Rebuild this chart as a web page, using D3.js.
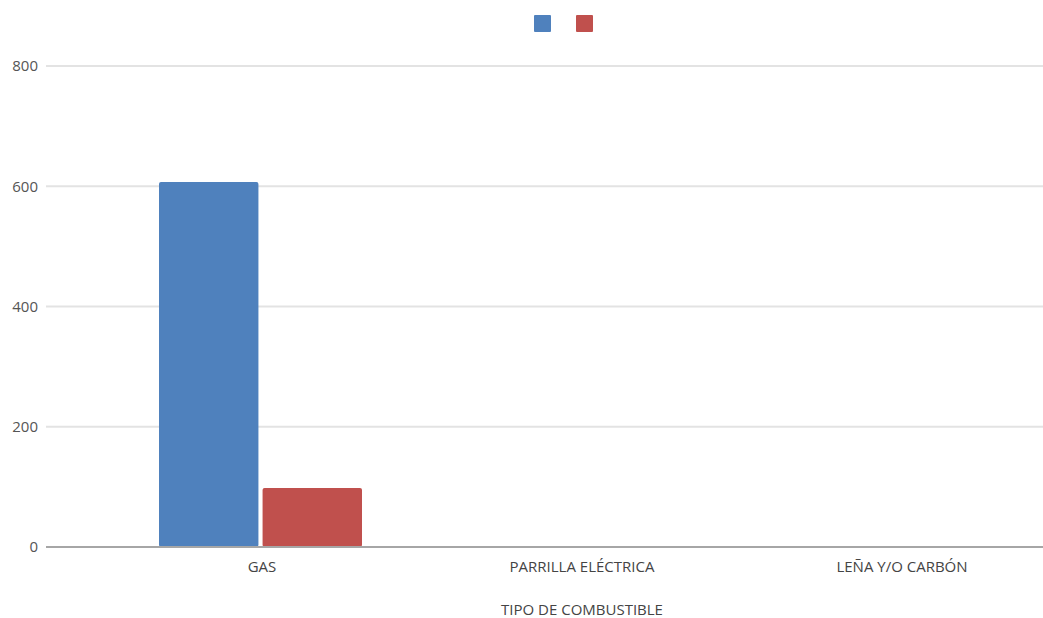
<!DOCTYPE html>
<html><head><meta charset="utf-8">
<script src="https://cdn.jsdelivr.net/npm/d3@7"></script>
<style>body{margin:0;background:#fff}svg{display:block;font-family:"Open Sans",sans-serif}</style>
</head><body><svg id="c" width="1043" height="618"></svg>
<script>
const categories = ["GAS", "PARRILLA ELÉCTRICA", "LEÑA Y/O CARBÓN"];
const seriesNames = ["", ""];
const series1 = [607, 0, 0];
const series2 = [98, 0, 0];
const yTicks = [0, 200, 400, 600, 800];
const xTitle = "TIPO DE COMBUSTIBLE";
const colors = ["#4F81BD", "#C0504D"];

(function () {
const svg = d3.select("#c");
const pLeft = 46, pRight = 1043, pTop = 66, pBottom = 547;
const y = d3.scaleLinear().domain([0, 800]).range([pBottom, pTop]);
const x = d3.scaleBand().domain(categories).range([102, 1062]);
const inner = d3.scaleBand().domain([0, 1]).range([57, 260]).paddingInner(0.04);
const fs = 15;

svg.append("g").selectAll("line").data(yTicks.filter(d => d > 0)).join("line")
  .attr("x1", pLeft).attr("x2", pRight).attr("y1", d => y(d)).attr("y2", d => y(d))
  .attr("stroke", "#e3e3e3").attr("stroke-width", 2);

svg.append("g").selectAll("text").data(yTicks).join("text")
  .attr("x", 38).attr("y", d => y(d)).attr("dy", "0.35em").attr("text-anchor", "end")
  .attr("fill", "#555").attr("font-size", fs).text(d => d);

const data = categories.map((c, i) => ({c, v: [series1[i], series2[i]]}));
const g = svg.append("g");
data.forEach(d => {
  d.v.forEach((v, j) => {
    if (v <= 0) return;
    g.append("rect")
      .attr("x", x(d.c) + inner(j)).attr("width", inner.bandwidth())
      .attr("y", y(v)).attr("height", y(0) - y(v))
      .attr("rx", 2).attr("fill", colors[j]);
  });
});

svg.append("line").attr("x1", pLeft).attr("x2", pRight).attr("y1", y(0)).attr("y2", y(0))
  .attr("stroke", "#a6a6a6").attr("stroke-width", 2);

svg.append("g").selectAll("text").data(categories).join("text")
  .attr("x", d => x(d) + x.bandwidth() / 2).attr("y", 572).attr("text-anchor", "middle")
  .attr("fill", "#444").attr("font-size", fs).text(d => d);

svg.append("text").attr("x", 582).attr("y", 615).attr("text-anchor", "middle")
  .attr("fill", "#444").attr("font-size", fs).text(xTitle);

const lg = svg.append("g");
seriesNames.forEach((n, i) => {
  lg.append("rect").attr("x", 534 + i * 42).attr("y", 15).attr("width", 17).attr("height", 17)
    .attr("rx", 1).attr("fill", colors[i]);
});
})();
</script></body></html>
